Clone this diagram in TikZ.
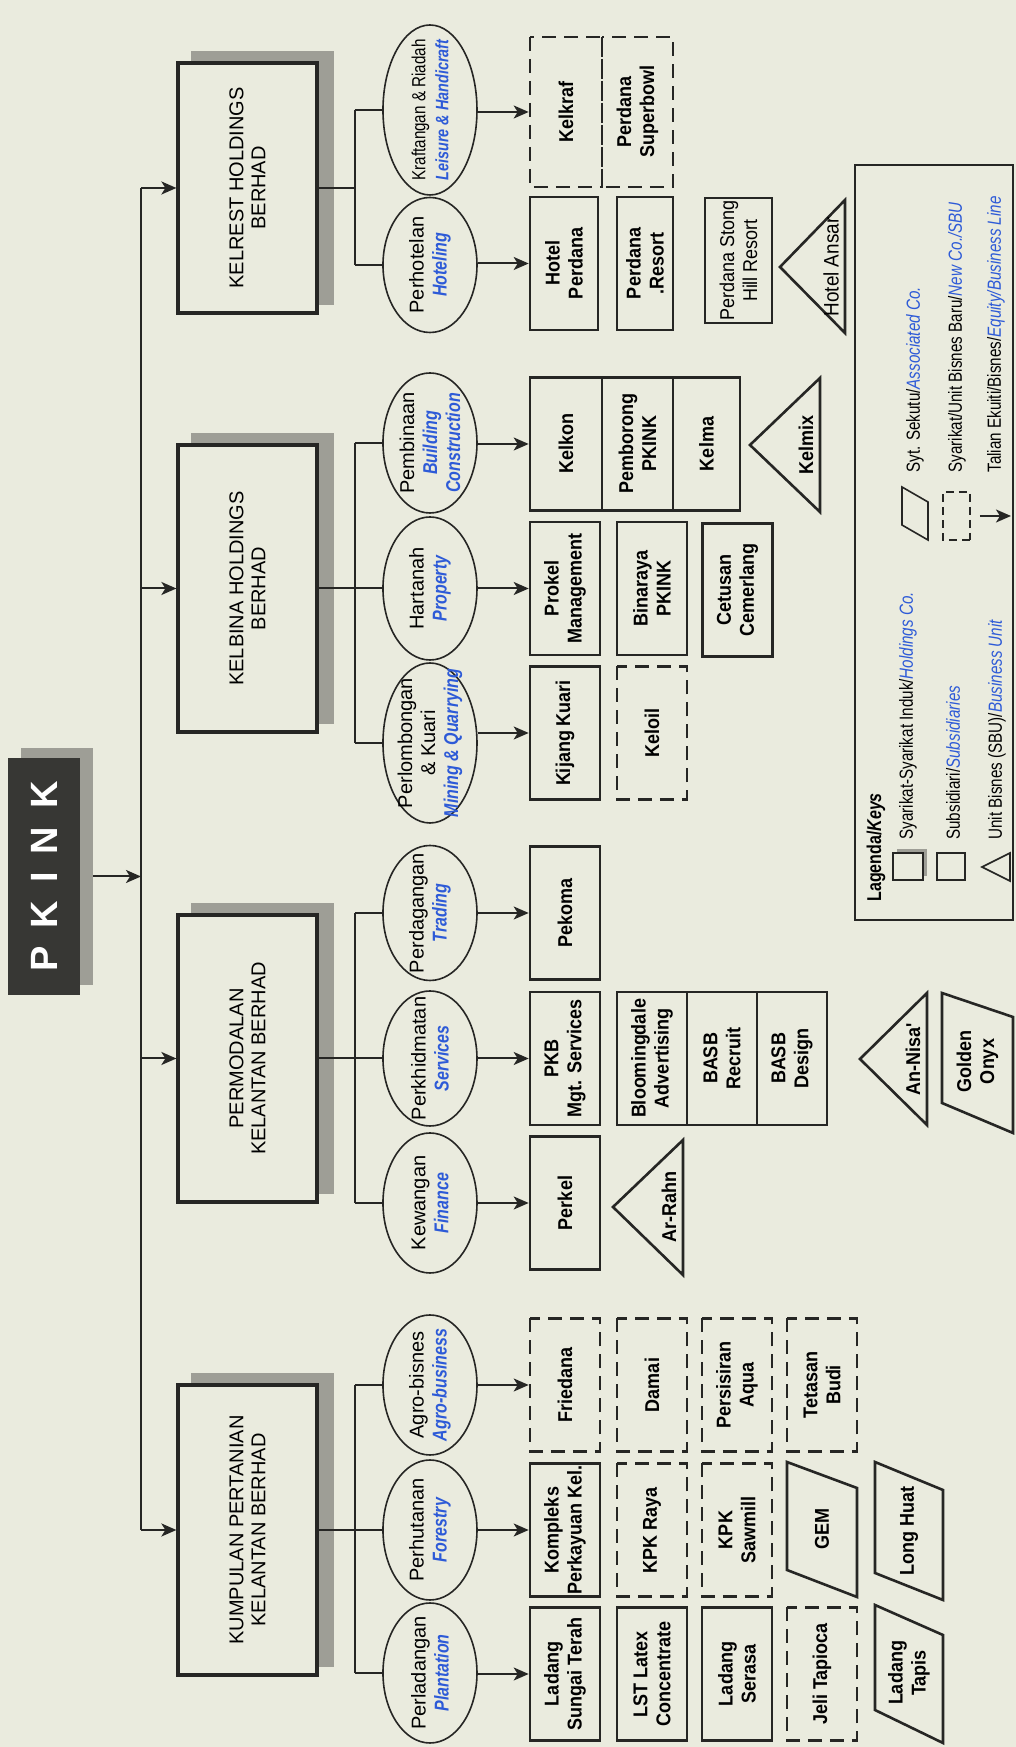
\documentclass[tikz,border=0pt]{standalone}
\usepackage{fontspec}
\setmainfont{Liberation Sans}
\newfontfamily\condfont[FakeStretch=0.9]{Liberation Sans}
\newfontfamily\narrowfont[FakeStretch=0.8]{Liberation Sans}
\usetikzlibrary{arrows.meta,shapes.geometric}
\definecolor{paper}{RGB}{234,235,222}
\definecolor{ink}{RGB}{38,38,36}
\definecolor{pkinkc}{RGB}{55,55,52}
\definecolor{shadowc}{RGB}{158,158,150}
\definecolor{keyblue}{RGB}{45,90,215}
\pgfdeclarelayer{back}
\pgfsetlayers{back,main}
\newcommand{\holdfont}{\fontsize{10}{11}\selectfont}
\newcommand{\unitfont}{\condfont\bfseries\fontsize{10}{11.5}\selectfont}
\newcommand{\sectfont}{\fontsize{10}{11.5}\selectfont}
\newcommand{\keyfont}{\narrowfont\fontsize{9.5}{10.5}\selectfont}
\newcommand{\pkinkfont}{\bfseries\fontsize{19}{20}\selectfont}
\newcommand{\engtag}[1]{{\narrowfont\bfseries\itshape\color{keyblue}#1}}
\newcommand{\keytag}[1]{{\itshape\color{keyblue}#1}}

\begin{document}
\begin{tikzpicture}[x=0.5pt,y=0.5pt,
  holdco/.style={draw=ink,line width=1.6pt,fill=paper,minimum width=#1,minimum height=69.5pt,align=center,font=\holdfont},
  subsid/.style={draw=ink,line width=1.3pt,minimum width=66.5pt,minimum height=35pt,inner xsep=0pt,inner ysep=1pt,align=center,font=\unitfont},
  newco/.style={subsid,dash pattern=on 7pt off 4pt},
  sbu/.style={draw=ink,line width=1.3pt},
  assoc/.style={draw=ink,line width=1.3pt},
  shapelabel/.style={font=\unitfont,align=center,inner sep=0pt},
  sectorell/.style={ellipse,draw=ink,line width=0.8pt,minimum width=70pt,minimum height=47pt,inner xsep=-20pt,inner ysep=-6pt,align=center,font=\sectfont},
  keytext/.style={anchor=west,inner sep=0pt,font=\keyfont},
  link/.style={draw=ink,line width=1pt},
  feed/.style={link,-{Stealth[length=7.5pt,width=6.5pt,inset=2pt]}}]
\begin{scope}[rotate=90,transform shape]
\useasboundingbox (0,0) rectangle (1747,1016);

\node[fill=pkinkc,text=white,minimum width=118.5pt,minimum height=36pt,inner sep=0pt,font=\pkinkfont] (pkink) at (870.5,972) {P\hspace{9pt}K\hspace{9pt}I\hspace{9pt}N\hspace{9pt}K};

\node[holdco=125pt] (kelrest) at (1559,768.5) {KELREST HOLDINGS\\BERHAD};
\node[holdco=143.5pt] (kelbina) at (1158.5,768.5) {KELBINA HOLDINGS\\BERHAD};
\node[holdco=143.5pt] (permodalan) at (688.5,768.5) {PERMODALAN\\KELANTAN BERHAD};
\node[holdco=145pt] (kumpulan) at (217,768.5) {KUMPULAN PERTANIAN\\KELANTAN BERHAD};

\node[sectorell,minimum width=85pt] (kraf) at (1637,586) {{\narrowfont\fontsize{9.5}{11.5}\selectfont Kraftangan \& Riadah}\\{\fontsize{9}{11.5}\selectfont\engtag{Leisure \& Handicraft}}};
\node[sectorell,minimum width=67.5pt] (hotel) at (1482,586) {Perhotelan\\\engtag{Hoteling}};
\node[sectorell] (bina) at (1304,586) {Pembinaan\\\engtag{Building}\\\engtag{Construction}};
\node[sectorell,minimum width=71.5pt] (tanah) at (1158.5,586) {Hartanah\\\engtag{Property}};
\node[sectorell,minimum width=80pt] (tambang) at (1004,586) {Perlombongan\\\& Kuari\\\engtag{Mining \& Quarrying}};
\node[sectorell,minimum width=67.5pt] (dagang) at (834,586) {Perdagangan\\\engtag{Trading}};
\node[sectorell,minimum width=67.5pt] (khidmat) at (688.5,586) {Perkhidmatan\\\engtag{Services}};
\node[sectorell] (wang) at (544,586) {Kewangan\\\engtag{Finance}};
\node[sectorell] (agro) at (362,586) {Agro-bisnes\\\engtag{Agro-business}};
\node[sectorell] (hutan) at (217,586) {Perhutanan\\\engtag{Forestry}};
\node[sectorell] (ladang) at (74,586) {Perladangan\\\engtag{Plantation}};

\node[newco,minimum width=75pt,minimum height=36pt] (kelkraf) at (1635,450) {Kelkraf};
\node[newco,minimum width=75pt,minimum height=35.5pt] (superbowl) at (1635,378.5) {Perdana\\Superbowl};
\node[subsid,minimum height=34pt] (hotelperdana) at (1483.5,452) {Hotel\\Perdana};
\node[subsid,minimum height=28pt] (resort) at (1483.5,371) {Perdana\\.Resort};
\node[subsid,minimum width=62.5pt,minimum height=33.5pt,font=\condfont\fontsize{10}{11.5}\selectfont] (stong) at (1486.5,277.5) {Perdana Stong\\Hill Resort};
\draw[sbu] (1414,171) -- (1480,236) -- (1547,171) -- cycle;
\node[shapelabel,font=\condfont\fontsize{10.5}{11}\selectfont] (ansar) at (1480,185) {Hotel Ansar};

\node[subsid,minimum height=36pt] (kelkon) at (1303,450) {Kelkon};
\node[subsid,minimum height=35.5pt] (pemborong) at (1303,378.5) {Pemborong\\PKINK};
\node[subsid,minimum height=33.5pt] (kelma) at (1303,309.5) {Kelma};
\draw[sbu] (1235,196) -- (1302,266) -- (1369,196) -- cycle;
\node[shapelabel] (kelmix) at (1302,210) {Kelmix};
\node[subsid] (prokel) at (1158.5,451) {Prokel\\Management};
\node[subsid] (binaraya) at (1158.5,364) {Binaraya\\PKINK};
\node[subsid] (cetusan) at (1157,278.5) {Cetusan\\Cemerlang};
\node[subsid] (kijang) at (1014,451) {Kijang Kuari};
\node[newco] (keloil) at (1014,364) {Keloil};

\node[subsid] (pekoma) at (834,451) {Pekoma};
\node[subsid] (pkb) at (688.5,451) {PKB\\Mgt. Services};
\node[subsid] (perkel) at (544,451) {Perkel};
\node[subsid] (bloomingdale) at (688.5,364) {Bloomingdale\\Advertising};
\node[subsid] (basbrecruit) at (688.5,294) {BASB\\Recruit};
\node[subsid] (basbdesign) at (688.5,224) {BASB\\Design};
\draw[sbu] (472,333) -- (540,403) -- (607,333) -- cycle;
\node[shapelabel] (arrahn) at (540,347) {Ar-Rahn};
\draw[sbu] (622,89) -- (688,156) -- (754,89) -- cycle;
\node[shapelabel] (annisa) at (688,103) {An-Nisa'};
\draw[assoc] (644,74) -- (754,74) -- (730,3) -- (614,3) -- cycle;
\node[shapelabel] (onyx) at (685.5,38.5) {Golden\\Onyx};

\node[newco] (friedana) at (362,451) {Friedana};
\node[newco] (damai) at (362,364) {Damai};
\node[newco] (persisiran) at (362,279) {Persisiran\\Aqua};
\node[newco] (tetasan) at (362,194) {Tetasan\\Budi};
\node[subsid] (kompleks) at (217,451) {Kompleks\\Perkayuan Kel.};
\node[newco] (kpkraya) at (217,364) {KPK Raya};
\node[newco] (sawmill) at (217,279) {KPK\\Sawmill};
\draw[assoc] (177,229) -- (285,229) -- (259,159) -- (150,159) -- cycle;
\node[shapelabel] (gem) at (218,194) {GEM};
\draw[assoc] (174,141) -- (285,141) -- (257,73) -- (147,73) -- cycle;
\node[shapelabel] (longhuat) at (216,107) {Long Huat};
\node[subsid] (sungai) at (73,451) {Ladang\\Sungai Terah};
\node[subsid] (lst) at (73,364) {LST Latex\\Concentrate};
\node[subsid] (serasa) at (73,279) {Ladang\\Serasa};
\node[newco] (jeli) at (73,194) {Jeli Tapioca};
\draw[assoc] (37,141) -- (142,141) -- (112,73) -- (4,73) -- cycle;
\node[shapelabel] (tapis) at (74,107) {Ladang\\Tapis};

\coordinate (bus) at (0,875);
\coordinate (fork) at (0,661);
\draw[link] (kumpulan.north |- bus) -- (kelrest.north |- bus);
\foreach \h in {kelrest,kelbina,permodalan,kumpulan}
  \draw[feed] (\h.north |- bus) -- (\h.north);
\draw[feed] ([yshift=-6.5pt]pkink.south) -- (pkink.south |- bus);
\foreach \h/\lo/\hi in {kelrest/hotel/kraf,kelbina/tambang/bina,permodalan/wang/dagang,kumpulan/ladang/agro} {
  \draw[link] (\h.south) -- (\h.south |- fork);
  \draw[link] (\lo.north |- fork) -- (\hi.north |- fork);
}
\foreach \s in {kraf,hotel,bina,tanah,tambang,dagang,khidmat,wang,agro,hutan,ladang}
  \draw[link] (\s.north |- fork) -- (\s.north);
\foreach \s/\b in {kraf/kelkraf,hotel/hotelperdana,bina/kelkon,tanah/prokel,tambang/kijang,dagang/pekoma,khidmat/pkb,wang/perkel,agro/friedana,hutan/kompleks,ladang/sungai}
  \draw[feed] (\b.north |- \s.south) -- (\b.north);

\node[draw=ink,line width=1pt,minimum width=377.5pt,minimum height=79pt,inner sep=0pt] (keys) at (1204.5,82) {};
\node[anchor=west,inner sep=0pt,font=\keyfont\bfseries\fontsize{10}{11}\selectfont] (keytitle) at (845,140) {Lagenda/\textit{Keys}};
\fill[shadowc] (871,89) rectangle (898,119);
\draw[ink,line width=0.8pt,fill=paper] (867,93) rectangle (894,123);
\draw[ink,line width=0.8pt] (867,51) rectangle (894,79);
\draw[ink,line width=0.8pt] (866,6) -- (880,34) -- (894,6) -- cycle;
\draw[ink,line width=0.8pt] (1222,114) -- (1260,114) -- (1245,88) -- (1207,88) -- cycle;
\draw[ink,line width=0.8pt,dash pattern=on 4pt off 2.5pt] (1207,46) rectangle (1255,73);
\coordinate (keytail) at (1231,36);
\coordinate (keyhead) at (1231,5);
\draw[feed] (keytail) -- (keyhead);
\node[keytext] (keyhold) at (907,108) {Syarikat-Syarikat Induk/\keytag{Holdings Co.}};
\node[keytext] (keysub) at (907,63) {Subsidiari/\keytag{Subsidiaries}};
\node[keytext] (keysbu) at (907,19) {Unit Bisnes (SBU)/\keytag{Business Unit}};
\node[keytext] (keyassoc) at (1274,101) {Syt. Sekutu/\keytag{Associated Co.}};
\node[keytext] (keynew) at (1274,59) {Syarikat/Unit Bisnes Baru/\keytag{New Co./SBU}};
\node[keytext] (keyline) at (1274,20) {Talian Ekuiti/Bisnes/\keytag{Equity/Business Line}};

\begin{pgfonlayer}{back}
\fill[paper] (0,0) rectangle (1747,1016);
\foreach \h in {kelrest,kelbina,permodalan,kumpulan}
  \fill[shadowc] ([shift={(10,-15)}]\h.south west) rectangle ([shift={(10,-15)}]\h.north east);
\fill[shadowc] ([shift={(10,-13)}]pkink.south west) rectangle ([shift={(10,-13)}]pkink.north east);
\end{pgfonlayer}
\end{scope}
\end{tikzpicture}
\end{document}
